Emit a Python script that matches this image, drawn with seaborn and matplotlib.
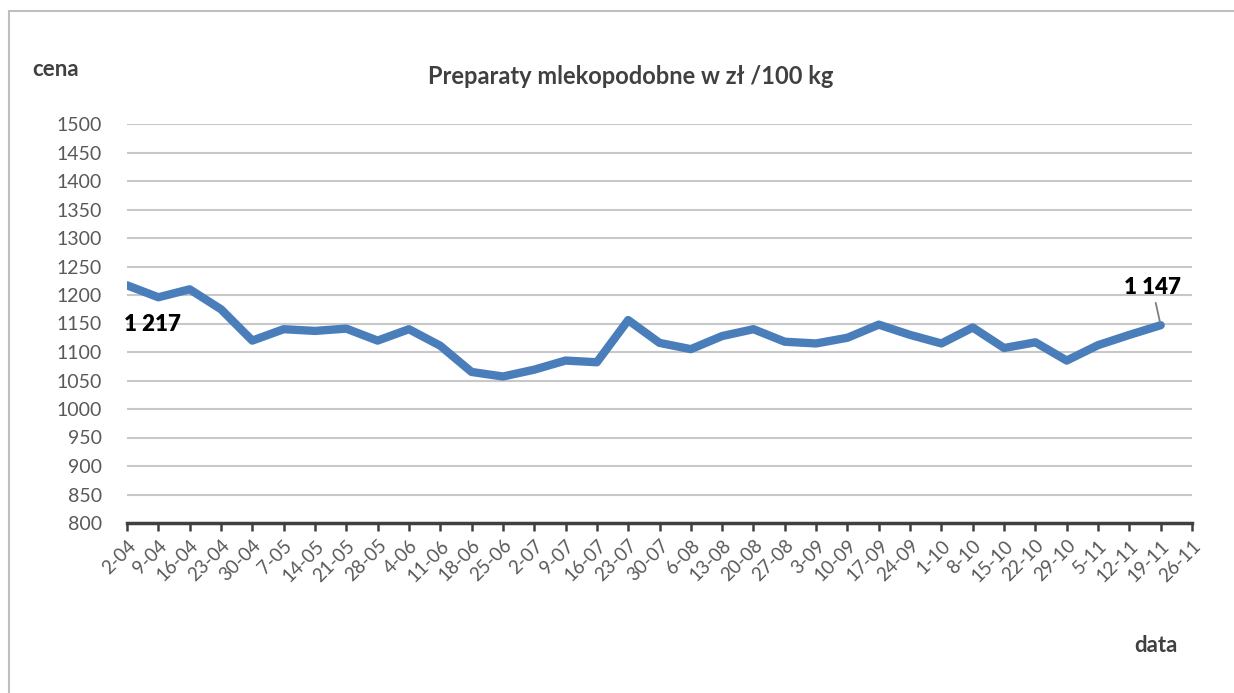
import matplotlib
matplotlib.use("Agg")
import matplotlib.pyplot as plt
from matplotlib.patches import Rectangle
import seaborn as sns
import pandas as pd
import numpy as np

# weekly dates (day-month) shown on the x axis
dates = ['2-04', '9-04', '16-04', '23-04', '30-04', '7-05', '14-05', '21-05',
         '28-05', '4-06', '11-06', '18-06', '25-06', '2-07', '9-07', '16-07',
         '23-07', '30-07', '6-08', '13-08', '20-08', '27-08', '3-09', '10-09',
         '17-09', '24-09', '1-10', '8-10', '15-10', '22-10', '29-10', '5-11',
         '12-11', '19-11', '26-11']

# price in zl / 100 kg (no value yet for the last week)
prices = [1217, 1196, 1210, 1175, 1120, 1140, 1137, 1141, 1120, 1140,
          1111, 1065, 1057, 1069, 1085, 1082, 1156, 1116, 1105, 1128,
          1140, 1118, 1115, 1125, 1148, 1130, 1115, 1143, 1107, 1117,
          1085, 1112, 1130, 1147]

y_ticks = list(range(800, 1501, 50))

GREY_TXT = '#595959'
DARK_TXT = '#404040'

sns.set_style("white")
plt.rcParams['font.family'] = ['Lato', 'DejaVu Sans']

df = pd.DataFrame({'pos': np.arange(len(prices)), 'cena': prices})

fig = plt.figure(figsize=(12.34, 6.93), dpi=100)
ax = fig.add_axes([127 / 1234, 1 - 523 / 693, (1192 - 127) / 1234, (523 - 124) / 693])

# outer chart border (only top and left are visible in the crop)
fig.patches.append(Rectangle((9 / 1234, -0.1), 1.2, (693 - 11) / 693 + 0.1,
                             transform=fig.transFigure, fill=False,
                             edgecolor='#bfbfbf', linewidth=1.5, zorder=0))

sns.lineplot(data=df, x='pos', y='cena', ax=ax, color='#4a7ebb',
             linewidth=6, solid_joinstyle='round', solid_capstyle='round',
             zorder=3)

ax.set_xlim(0, len(dates) - 1)
ax.set_ylim(y_ticks[0], y_ticks[-1])
ax.set_yticks(y_ticks)
ax.set_yticklabels([str(v) for v in y_ticks], color=GREY_TXT, fontsize=14)
ax.set_xticks(np.arange(len(dates)))
ax.set_xticklabels(dates, rotation=45, ha='right', rotation_mode='anchor',
                   color=GREY_TXT, fontsize=13.5)

ax.grid(axis='y', color='#c8c8c8', linewidth=1.5)
ax.set_axisbelow(True)
for s in ['top', 'right', 'left']:
    ax.spines[s].set_visible(False)
ax.spines['bottom'].set_color(DARK_TXT)
ax.spines['bottom'].set_linewidth(2.5)
ax.spines['bottom'].set_zorder(4)
ax.tick_params(axis='x', direction='out', length=6, width=1.8, color=DARK_TXT,
               pad=4, bottom=True)
ax.tick_params(axis='y', length=0, pad=18)
ax.set_xlabel('')
ax.set_ylabel('')

# data labels on the first and last points
first, last = prices[0], prices[-1]
ax.annotate(f'{first:,}'.replace(',', ' '), xy=(0, first), xytext=(-2, -28),
            textcoords='offset points', ha='left', va='center',
            fontsize=16, fontweight='heavy', color='black')
ax.annotate(f'{last:,}'.replace(',', ' '), xy=(len(prices) - 1, last),
            xytext=(-6, 27), textcoords='offset points', ha='center', va='center',
            fontsize=16, fontweight='heavy', color='black',
            arrowprops=dict(arrowstyle='-', color='#7f7f7f', lw=1.3,
                            shrinkA=1, shrinkB=2))

fig.text(631 / 1234, 1 - 76 / 693, 'Preparaty mlekopodobne w zł /100 kg',
         ha='center', va='center', fontsize=17, fontweight='bold', color=DARK_TXT)
fig.text(32 / 1234, 1 - 70 / 693, 'cena', ha='left', va='center',
         fontsize=16, fontweight='bold', color=DARK_TXT)
fig.text(1178 / 1234, 1 - 645 / 693, 'data', ha='right', va='center',
         fontsize=16, fontweight='bold', color=DARK_TXT)

fig.savefig('out.png', dpi=100)
